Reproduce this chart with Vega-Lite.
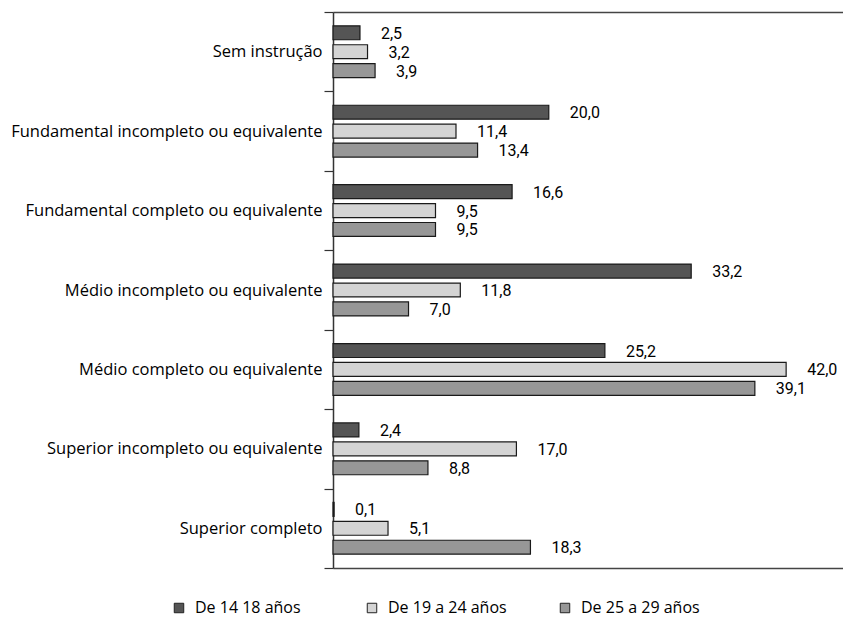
{
  "$schema": "https://vega.github.io/schema/vega-lite/v6.json",
  "width": 510,
  "height": 556,
  "autosize": {"type": "none"},
  "padding": {"left": 333, "top": 12, "right": 0, "bottom": 49},
  "config": {
    "locale": {"number": {"decimal": ",", "thousands": ".", "grouping": [3], "currency": ["", ""]}},
    "font": "Open Sans",
    "view": {"stroke": null}
  },
  "data": {
    "values": [
      {"cat": "Sem instrução", "serie": "De 14 18 años", "v": 2.5},
      {"cat": "Sem instrução", "serie": "De 19 a 24 años", "v": 3.2},
      {"cat": "Sem instrução", "serie": "De 25 a 29 años", "v": 3.9},
      {"cat": "Fundamental incompleto ou equivalente", "serie": "De 14 18 años", "v": 20.0},
      {"cat": "Fundamental incompleto ou equivalente", "serie": "De 19 a 24 años", "v": 11.4},
      {"cat": "Fundamental incompleto ou equivalente", "serie": "De 25 a 29 años", "v": 13.4},
      {"cat": "Fundamental completo ou equivalente", "serie": "De 14 18 años", "v": 16.6},
      {"cat": "Fundamental completo ou equivalente", "serie": "De 19 a 24 años", "v": 9.5},
      {"cat": "Fundamental completo ou equivalente", "serie": "De 25 a 29 años", "v": 9.5},
      {"cat": "Médio incompleto ou equivalente", "serie": "De 14 18 años", "v": 33.2},
      {"cat": "Médio incompleto ou equivalente", "serie": "De 19 a 24 años", "v": 11.8},
      {"cat": "Médio incompleto ou equivalente", "serie": "De 25 a 29 años", "v": 7.0},
      {"cat": "Médio completo ou equivalente", "serie": "De 14 18 años", "v": 25.2},
      {"cat": "Médio completo ou equivalente", "serie": "De 19 a 24 años", "v": 42.0},
      {"cat": "Médio completo ou equivalente", "serie": "De 25 a 29 años", "v": 39.1},
      {"cat": "Superior incompleto ou equivalente", "serie": "De 14 18 años", "v": 2.4},
      {"cat": "Superior incompleto ou equivalente", "serie": "De 19 a 24 años", "v": 17.0},
      {"cat": "Superior incompleto ou equivalente", "serie": "De 25 a 29 años", "v": 8.8},
      {"cat": "Superior completo", "serie": "De 14 18 años", "v": 0.1},
      {"cat": "Superior completo", "serie": "De 19 a 24 años", "v": 5.1},
      {"cat": "Superior completo", "serie": "De 25 a 29 años", "v": 18.3}
    ]
  },
  "encoding": {
    "y": {
      "field": "cat", "type": "nominal", "sort": null,
      "scale": {"paddingInner": 0, "paddingOuter": 0},
      "axis": {
        "title": null, "tickBand": "extent", "tickSize": 9, "tickColor": "#333", "tickWidth": 1.2,
        "domainColor": "#333", "domainWidth": 1.5, "labelPadding": 2,
        "labelFontSize": 16.5, "labelFontWeight": 500, "labelColor": "#000", "labelFont": "Open Sans", "labelLimit": 400
      }
    },
    "yOffset": {
      "field": "serie", "type": "nominal", "sort": null,
      "scale": {"paddingInner": 0.263, "paddingOuter": 0.73}
    },
    "x": {"field": "v", "type": "quantitative", "scale": {"domain": [0, 47.27], "nice": false, "zero": true}}
  },
  "layer": [
    {
      "mark": {"type": "bar", "stroke": "#1a1a1a", "strokeWidth": 1.2},
      "encoding": {
        "x": {
          "field": "v", "type": "quantitative",
          "axis": {"orient": "bottom", "labels": false, "ticks": false, "grid": false, "title": null, "domainColor": "#444", "domainWidth": 1.5}
        },
        "color": {
          "field": "serie", "type": "nominal", "sort": null,
          "scale": {"domain": ["De 14 18 años", "De 19 a 24 años", "De 25 a 29 años"], "range": ["#555555", "#d4d4d4", "#979797"]},
          "legend": {
            "title": null, "orient": "none", "direction": "horizontal",
            "legendX": -162, "legendY": 588, "gridAlign": "all",
            "symbolType": "square", "symbolSize": 90, "symbolStrokeColor": "#222", "symbolStrokeWidth": 1,
            "labelFontSize": 16, "labelFont": "Open Sans", "labelColor": "#000", "columnPadding": 50, "labelOffset": 8
          }
        }
      }
    },
    {
      "mark": {"type": "text", "align": "left", "baseline": "middle", "dx": 21, "dy": 1, "fontSize": 16, "font": "Roboto", "color": "#000"},
      "encoding": {
        "x": {
          "field": "v", "type": "quantitative",
          "axis": {"orient": "top", "labels": false, "ticks": false, "grid": false, "title": null, "domainColor": "#444", "domainWidth": 1.5}
        },
        "text": {"field": "v", "type": "quantitative", "format": ".1f"}
      }
    }
  ],
  "resolve": {"axis": {"x": "independent"}}
}
